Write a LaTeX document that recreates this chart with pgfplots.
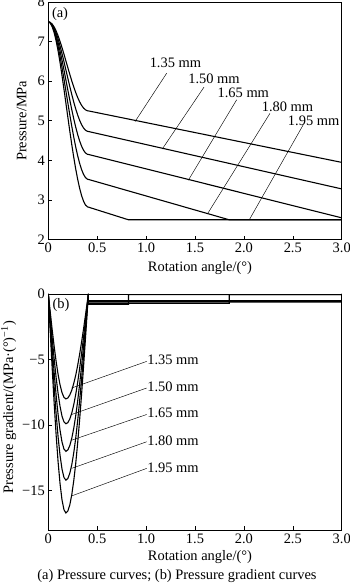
\documentclass[border=0pt]{standalone}
\usepackage{fontspec}
\setmainfont{Liberation Serif}
\usepackage{pgfplots}
\pgfplotsset{compat=1.18}
\newcommand{\fs}{\fontsize{14.5}{16}\selectfont}
\pgfplotsset{
  myaxis/.style={
    scale only axis, width=293.4bp,
    xmin=0, xmax=3,
    xtick={0,0.5,1,1.5,2,2.5,3}, xticklabels={0,0.5,1.0,1.5,2.0,2.5,3.0},
    tick align=inside, xtick pos=bottom, ytick pos=left,
    major tick length=4bp,
    tick style={black, line width=0.6pt},
    axis line style={line width=0.8pt},
    ticklabel style={font=\fs},
    label style={font=\fs},
    /pgf/number format/assume math mode=true,
  },
}
\tikzset{
  curve/.style={black, line width=1.1pt, mark=none},
  lead/.style={black, line width=0.45pt},
  lab/.style={font=\fs, inner sep=0pt},
}
\begin{document}
\begin{tikzpicture}
\useasboundingbox (0,0) rectangle (350bp,587bp);
% ---------- (a) ----------
\begin{axis}[myaxis, at={(48.3bp,347.4bp)}, anchor=south west, height=237.6bp,
  ymin=2, ymax=8, ytick={2,3,4,5,6,7,8},
  xlabel={Rotation angle/(°)}, ylabel={Pressure/MPa},
  xlabel style={at={(axis description cs:0.517,-0.12)}, anchor=center},
  ylabel style={at={(axis description cs:-0.0907,0.5)}, anchor=center}]
\addplot[curve] coordinates {(0,7.5)(0.02,7.485)(0.04,7.440)(0.06,7.368)(0.08,7.269)(0.10,7.147)(0.12,7.006)(0.14,6.850)(0.16,6.684)(0.18,6.512)(0.20,6.340)(0.22,6.171)(0.24,6.009)(0.26,5.856)(0.28,5.716)(0.30,5.590)(0.32,5.481)(0.34,5.392)(0.36,5.323)(0.38,5.276)(0.40,5.253)(0.41,5.25)(3.0,3.95)};
\addplot[curve] coordinates {(0,7.5)(0.02,7.481)(0.04,7.427)(0.06,7.337)(0.08,7.216)(0.10,7.066)(0.12,6.892)(0.14,6.700)(0.16,6.495)(0.18,6.284)(0.20,6.072)(0.22,5.864)(0.24,5.665)(0.26,5.476)(0.28,5.303)(0.30,5.148)(0.32,5.015)(0.34,4.904)(0.36,4.820)(0.38,4.762)(0.40,4.734)(0.41,4.73)(3.0,3.28)};
\addplot[curve] coordinates {(0,7.5)(0.02,7.478)(0.04,7.411)(0.06,7.303)(0.08,7.156)(0.10,6.975)(0.12,6.765)(0.14,6.532)(0.16,6.285)(0.18,6.029)(0.20,5.773)(0.22,5.522)(0.24,5.280)(0.26,5.053)(0.28,4.843)(0.30,4.656)(0.32,4.494)(0.34,4.361)(0.36,4.258)(0.38,4.189)(0.40,4.154)(0.41,4.15)(3.0,2.55)};
\addplot[curve] coordinates {(0,7.5)(0.02,7.473)(0.04,7.395)(0.06,7.266)(0.08,7.091)(0.10,6.876)(0.12,6.626)(0.14,6.350)(0.16,6.056)(0.18,5.752)(0.20,5.448)(0.22,5.150)(0.24,4.863)(0.26,4.592)(0.28,4.343)(0.30,4.121)(0.32,3.929)(0.34,3.770)(0.36,3.649)(0.38,3.567)(0.40,3.525)(0.41,3.52)(1.85,2.5)(3.0,2.5)};
\addplot[curve] coordinates {(0,7.5)(0.02,7.469)(0.04,7.376)(0.06,7.225)(0.08,7.019)(0.10,6.766)(0.12,6.473)(0.14,6.148)(0.16,5.802)(0.18,5.445)(0.20,5.088)(0.22,4.737)(0.24,4.399)(0.26,4.081)(0.28,3.788)(0.30,3.527)(0.32,3.301)(0.34,3.114)(0.36,2.971)(0.38,2.875)(0.40,2.826)(0.41,2.82)(0.82,2.5)(3.0,2.5)};
\draw[lead] (axis cs:0.887,4.98) -- (axis cs:1.21,6.20);
\draw[lead] (axis cs:1.166,4.29) -- (axis cs:1.592,5.85);
\draw[lead] (axis cs:1.432,3.50) -- (axis cs:1.926,5.53);
\draw[lead] (axis cs:1.63,2.66) -- (axis cs:2.267,5.19);
\draw[lead] (axis cs:2.055,2.5) -- (axis cs:2.607,4.90);
\node[lab] at (axis cs:1.30,6.46) {1.35 mm};
\node[lab] at (axis cs:1.694,6.06) {1.50 mm};
\node[lab] at (axis cs:1.994,5.71) {1.65 mm};
\node[lab] at (axis cs:2.446,5.35) {1.80 mm};
\node[lab] at (axis cs:2.713,5.00) {1.95 mm};
\node[lab] at (axis cs:0.12,7.70) {(a)};
\end{axis}
% ---------- (b) ----------
\begin{axis}[myaxis, at={(48.3bp,57bp)}, anchor=south west, height=236bp,
  ymin=-18, ymax=0, ytick={-15,-10,-5,0}, yticklabels={−15,−10,−5,0},
  xlabel={Rotation angle/(°)}, ylabel={Pressure gradient/(MPa·(°)\textsuperscript{−1})},
  xlabel style={at={(axis description cs:0.517,-0.115)}, anchor=center},
  ylabel style={at={(axis description cs:-0.135,0.52)}, anchor=center}]
\addplot[curve] coordinates {(0,0)(0.02,-1.39)(0.04,-2.74)(0.06,-4.0)(0.08,-5.14)(0.10,-6.13)(0.12,-6.93)(0.14,-7.52)(0.16,-7.88)(0.18,-8.0)(0.20,-7.93)(0.22,-7.70)(0.24,-7.34)(0.26,-6.83)(0.28,-6.21)(0.30,-5.46)(0.32,-4.61)(0.34,-3.68)(0.36,-2.68)(0.38,-1.62)(0.40,-0.54)(0.41,0)(0.41,-0.50)(3.0,-0.50)(3.0,0)};
\addplot[curve] coordinates {(0,0)(0.02,-1.72)(0.04,-3.39)(0.06,-4.95)(0.08,-6.37)(0.10,-7.58)(0.12,-8.57)(0.14,-9.31)(0.16,-9.75)(0.18,-9.9)(0.20,-9.81)(0.22,-9.53)(0.24,-9.08)(0.26,-8.45)(0.28,-7.68)(0.30,-6.75)(0.32,-5.70)(0.34,-4.55)(0.36,-3.32)(0.38,-2.01)(0.40,-0.67)(0.41,0)(0.41,-0.56)(3.0,-0.56)(3.0,0)};
\addplot[curve] coordinates {(0,0)(0.02,-2.09)(0.04,-4.10)(0.06,-6.0)(0.08,-7.72)(0.10,-9.19)(0.12,-10.39)(0.14,-11.28)(0.16,-11.82)(0.18,-12.0)(0.20,-11.89)(0.22,-11.56)(0.24,-11.0)(0.26,-10.25)(0.28,-9.31)(0.30,-8.18)(0.32,-6.91)(0.34,-5.52)(0.36,-4.02)(0.38,-2.44)(0.40,-0.82)(0.41,0)(0.41,-0.62)(3.0,-0.62)(3.0,0)};
\addplot[curve] coordinates {(0,0)(0.02,-2.47)(0.04,-4.86)(0.06,-7.1)(0.08,-9.13)(0.10,-10.88)(0.12,-12.30)(0.14,-13.35)(0.16,-13.99)(0.18,-14.2)(0.20,-14.07)(0.22,-13.67)(0.24,-13.02)(0.26,-12.13)(0.28,-11.02)(0.30,-9.68)(0.32,-8.18)(0.34,-6.53)(0.36,-4.76)(0.38,-2.88)(0.40,-0.97)(0.41,0)(0.41,-0.71)(1.85,-0.71)(1.85,-0.05)(3.0,-0.05)};
\addplot[curve] coordinates {(0,0)(0.02,-2.91)(0.04,-5.71)(0.06,-8.35)(0.08,-10.74)(0.10,-12.79)(0.12,-14.46)(0.14,-15.70)(0.16,-16.45)(0.18,-16.7)(0.20,-16.55)(0.22,-16.08)(0.24,-15.31)(0.26,-14.26)(0.28,-12.96)(0.30,-11.39)(0.32,-9.62)(0.34,-7.68)(0.36,-5.59)(0.38,-3.39)(0.40,-1.14)(0.41,0)(0.41,-0.78)(0.82,-0.78)(0.82,-0.05)(3.0,-0.05)};
\draw[lead] (axis cs:0.239,-7.17) -- (axis cs:1.006,-5.14);
\draw[lead] (axis cs:0.239,-9.19) -- (axis cs:1.006,-7.17);
\draw[lead] (axis cs:0.239,-11.15) -- (axis cs:1.006,-9.19);
\draw[lead] (axis cs:0.239,-13.3) -- (axis cs:1.006,-11.27);
\draw[lead] (axis cs:0.239,-15.4) -- (axis cs:1.006,-13.3);
\node[lab, anchor=west] at (axis cs:1.01,-5.02) {1.35 mm};
\node[lab, anchor=west] at (axis cs:1.01,-7.04) {1.50 mm};
\node[lab, anchor=west] at (axis cs:1.01,-9.07) {1.65 mm};
\node[lab, anchor=west] at (axis cs:1.01,-11.17) {1.80 mm};
\node[lab, anchor=west] at (axis cs:1.01,-13.25) {1.95 mm};
\node[lab] at (axis cs:0.13,-0.84) {(b)};
\end{axis}
\node[font=\fs, inner sep=0pt] at (177bp,11bp) {(a) Pressure curves; (b) Pressure gradient curves};
\end{tikzpicture}
\end{document}
